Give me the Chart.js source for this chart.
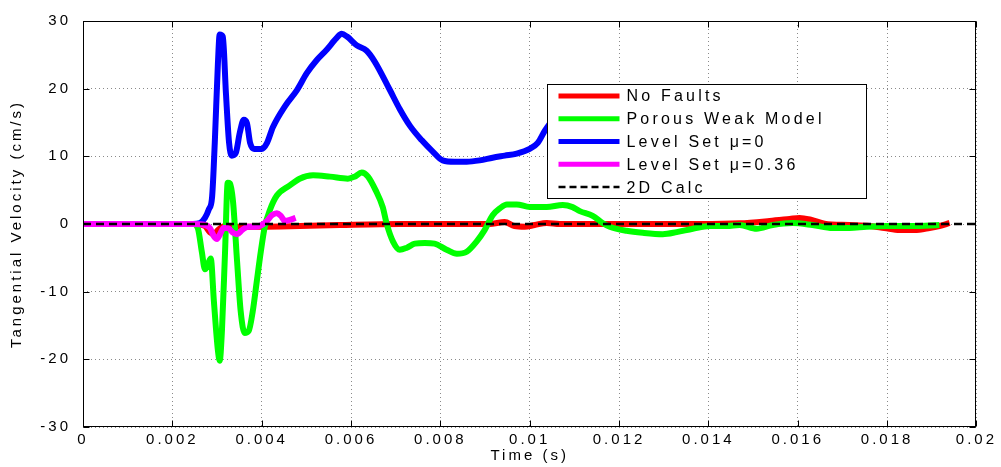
<!DOCTYPE html>
<html>
<head>
<meta charset="utf-8">
<script src="https://cdn.jsdelivr.net/npm/chart.js@4.4.1/dist/chart.umd.min.js"></script>
<style>
  body { margin: 0; background: #fff; }
  #velocityChart { display: block; }
</style>
</head>
<body>
<canvas id="velocityChart" width="1001" height="467"></canvas>
<script>
const xTickLabels = ['0', '0.002', '0.004', '0.006', '0.008', '0.01', '0.012', '0.014', '0.016', '0.018', '0.02'];
const yTickLabels = ['-30', '-20', '-10', '0', '10', '20', '30'];
const seriesNames = ['No Faults', 'Porous Weak Model', 'Level Set \u03bc=0', 'Level Set \u03bc=0.36', '2D Calc'];
const seriesColors = ['#ff0000', '#00ff00', '#0000ff', '#ff00ff', '#000000'];

// time (s) / tangential velocity (cm/s) per run
const noFaultsTime = [0, 0.0025, 0.00273, 0.00284, 0.00293, 0.00302, 0.00318, 0.00351, 0.00396, 0.00485,
  0.00575, 0.00709, 0.00843, 0.0091, 0.00944, 0.00966, 0.00989, 0.01011, 0.01038, 0.01067,
  0.01157, 0.01268, 0.0138, 0.0147, 0.01537, 0.01582, 0.01604, 0.01631, 0.0166, 0.01716,
  0.01761, 0.01794, 0.01828, 0.01861, 0.01895, 0.01917, 0.0194];
const noFaultsVel = [0, 0, -0.3, -1.2, -1.5, -0.9, -0.3, -0.4, -0.4, -0.3,
  -0.15, 0, 0, 0, 0.3, -0.3, -0.4, -0.15, 0.15, 0,
  0, 0, 0, 0.1, 0.45, 0.75, 0.9, 0.6, 0.05, -0.15,
  -0.3, -0.6, -0.9, -0.9, -0.6, -0.3, 0.15];

const porousTime = [0, 0.00246, 0.00257, 0.00266, 0.00273, 0.0028, 0.00286, 0.00293, 0.00302, 0.00306,
  0.00311, 0.00318, 0.00324, 0.00329, 0.00336, 0.00345, 0.00353, 0.00362, 0.00371, 0.0038,
  0.00389, 0.00398, 0.00407, 0.00418, 0.00434, 0.00463, 0.00485, 0.00515, 0.00553, 0.00593,
  0.00608, 0.00624, 0.00638, 0.00655, 0.00671, 0.0068, 0.00694, 0.00709, 0.00725, 0.00743,
  0.00765, 0.00787, 0.00814, 0.00837, 0.00859, 0.00881, 0.00899, 0.00917, 0.00933, 0.00949,
  0.00971, 0.01, 0.01038, 0.01074, 0.01096, 0.01112, 0.01141, 0.01163, 0.01179, 0.01217,
  0.01253, 0.01298, 0.01329, 0.01365, 0.01403, 0.01441, 0.0147, 0.01508, 0.01544, 0.01588,
  0.01633, 0.01678, 0.01716, 0.01754, 0.01799, 0.01857, 0.01917];
const porousVel = [0, 0, -0.6, -4.1, -6.7, -5.9, -5.1, -11.4, -18.7, -20.2,
  -15.8, -4.1, 6.1, 6.0, 3.2, -5.6, -12.9, -16.1, -15.8, -12.9,
  -8.5, -4.1, -0.4, 2.0, 4.2, 5.7, 6.7, 7.2, 7.0, 6.7,
  7.0, 7.6, 7.0, 5.0, 2.5, 0, -2.6, -3.8, -3.5, -2.9,
  -2.8, -2.9, -3.8, -4.4, -4.1, -2.6, -0.9, 1.3, 2.3, 2.9,
  2.9, 2.5, 2.5, 2.8, 2.5, 1.9, 1.2, 0.15, -0.4, -1.0,
  -1.3, -1.5, -1.2, -0.7, -0.3, -0.3, -0.15, -0.7, -0.15, 0.15,
  -0.15, -0.6, -0.6, -0.4, -0.3, -0.3, -0.15];

const levelSet0Time = [0, 0.00246, 0.00262, 0.00273, 0.00282, 0.00289, 0.00295, 0.00302, 0.00306, 0.00313,
  0.0032, 0.00327, 0.00333, 0.00342, 0.00351, 0.0036, 0.00367, 0.00374, 0.00383, 0.004,
  0.00412, 0.00425, 0.00452, 0.00479, 0.00501, 0.00523, 0.00546, 0.00568, 0.00579, 0.00591,
  0.00613, 0.00635, 0.00653, 0.00687, 0.00709, 0.00732, 0.00758, 0.00783, 0.00805, 0.00832,
  0.00859, 0.00888, 0.00917, 0.00944, 0.00971, 0.01, 0.01018, 0.01034, 0.01049];
const levelSet0Vel = [0, 0, 0.15, 0.9, 2.2, 4.0, 12.0, 23.7, 28.0, 27.7,
  19.3, 12.0, 10.1, 10.5, 13.5, 15.4, 14.9, 12.0, 11.1, 11.1,
  12.0, 14.3, 17.4, 19.8, 22.3, 24.2, 25.8, 27.5, 28.1, 27.7,
  26.4, 25.6, 24.0, 19.8, 17.0, 14.5, 12.4, 10.7, 9.4, 9.2,
  9.2, 9.4, 9.8, 10.1, 10.4, 11.1, 12.0, 13.8, 15.2];

const levelSet036Time = [0, 0.00246, 0.00273, 0.00284, 0.00293, 0.003, 0.00306, 0.00315, 0.00324, 0.00336,
  0.00345, 0.00356, 0.00369, 0.00387, 0.004, 0.00412, 0.00423, 0.00434, 0.00443, 0.00452,
  0.00463, 0.00476];
const levelSet036Vel = [0, 0, -0.15, -0.6, -1.8, -2.2, -1.6, -0.6, -0.6, -1.3,
  -1.5, -0.9, -0.4, -0.4, -0.15, 0.45, 1.3, 1.6, 1.2, 0.45,
  0.6, 0.9];

const calc2dTime = [0, 0.02];
const calc2dVel = [0, 0];

const fontFamily = "'Liberation Sans', Arial, Helvetica, sans-serif";
const spacing = '3px';

function toPoints(ts, vs) {
  return ts.map((t, i) => ({ x: t, y: vs[i] }));
}

function lineSet(idx, ts, vs, extra) {
  return Object.assign({
    label: seriesNames[idx],
    data: toPoints(ts, vs),
    borderColor: seriesColors[idx],
    borderWidth: 6,
    pointRadius: 0,
    cubicInterpolationMode: 'monotone',
    borderJoinStyle: 'round',
    order: 5 - idx
  }, extra || {});
}

// legend box, as fractions of the plot area
const legendBox = { left: 0.519, right: 0.876, top: 0.154, bottom: 0.434 };

function drawLegend(chart) {
  const { ctx, chartArea: a } = chart;
  const bx = Math.round(a.left + legendBox.left * a.width) + 0.5;
  const by = Math.round(a.top + legendBox.top * a.height) + 0.5;
  const bw = Math.round((legendBox.right - legendBox.left) * a.width);
  const bh = Math.round((legendBox.bottom - legendBox.top) * a.height);
  ctx.save();
  ctx.fillStyle = '#fff';
  ctx.fillRect(bx, by, bw, bh);
  ctx.strokeStyle = '#000';
  ctx.lineWidth = 1;
  ctx.strokeRect(bx, by, bw, bh);
  ctx.font = '16px ' + fontFamily;
  ctx.letterSpacing = '3.2px';
  ctx.textBaseline = 'middle';
  ctx.fillStyle = '#000';
  const rowH = bh / seriesNames.length;
  seriesNames.forEach((name, i) => {
    const ry = by + rowH * (i + 0.5);
    ctx.beginPath();
    ctx.moveTo(bx + 11, ry);
    ctx.lineTo(bx + 72, ry);
    if (i === 4) {
      ctx.setLineDash([7, 4]);
      ctx.lineWidth = 2.5;
    } else {
      ctx.setLineDash([]);
      ctx.lineWidth = 5;
    }
    ctx.strokeStyle = seriesColors[i];
    ctx.stroke();
    ctx.fillText(name, bx + 79, ry + 1);
  });
  ctx.restore();
}

const boxPlugin = {
  id: 'plotBox',
  beforeLayout(chart) { chart.ctx.letterSpacing = spacing; },
  beforeDraw(chart) {
    const { ctx } = chart;
    ctx.save();
    ctx.fillStyle = '#fff';
    ctx.fillRect(0, 0, chart.width, chart.height);
    ctx.restore();
    ctx.letterSpacing = spacing;
  },
  afterDatasetsDraw(chart) { drawLegend(chart); },
  afterDraw(chart) {
    const { ctx, chartArea: a, scales: { x, y } } = chart;
    const L = Math.round(a.left) + 0.5, R = Math.round(a.right) - 0.5;
    const T = Math.round(a.top) + 0.5, B = Math.round(a.bottom) - 0.5;
    const tick = 6;
    ctx.save();
    ctx.strokeStyle = '#000';
    ctx.lineWidth = 1;
    ctx.setLineDash([]);
    ctx.strokeRect(L, T, R - L, B - T);
    ctx.beginPath();
    x.ticks.forEach(t => {
      const px = Math.round(x.getPixelForValue(t.value)) + 0.5;
      ctx.moveTo(px, B); ctx.lineTo(px, B - tick);
      ctx.moveTo(px, T); ctx.lineTo(px, T + tick);
    });
    y.ticks.forEach(t => {
      const py = Math.round(y.getPixelForValue(t.value)) + 0.5;
      ctx.moveTo(L, py); ctx.lineTo(L + tick, py);
      ctx.moveTo(R, py); ctx.lineTo(R - tick, py);
    });
    ctx.stroke();
    ctx.restore();
  }
};

Chart.defaults.font.family = fontFamily;
Chart.defaults.color = '#000';

new Chart(document.getElementById('velocityChart').getContext('2d'), {
  type: 'line',
  data: {
    datasets: [
      lineSet(0, noFaultsTime, noFaultsVel),
      lineSet(1, porousTime, porousVel),
      lineSet(2, levelSet0Time, levelSet0Vel),
      lineSet(3, levelSet036Time, levelSet036Vel),
      lineSet(4, calc2dTime, calc2dVel, { borderWidth: 2.5, borderDash: [8, 5], cubicInterpolationMode: 'default' })
    ]
  },
  options: {
    responsive: false,
    animation: false,
    devicePixelRatio: 1,
    layout: { padding: { top: 17, right: 24, bottom: 0, left: 0 } },
    plugins: {
      legend: { display: false },
      tooltip: { enabled: false }
    },
    scales: {
      x: {
        type: 'linear',
        min: 0,
        max: 0.02,
        afterFit: s => { s.height = 40; },
        ticks: {
          stepSize: 0.002,
          autoSkip: false,
          maxRotation: 0,
          padding: 4,
          font: { size: 15 },
          callback: (v, i) => xTickLabels[i]
        },
        grid: { color: '#8a8a8a', lineWidth: 1, drawTicks: false },
        border: { display: false, dash: [1, 3] },
        title: {
          display: true,
          text: 'Time (s)',
          font: { size: 15 },
          padding: { top: 0, bottom: 2 }
        }
      },
      y: {
        min: -30,
        max: 30,
        afterFit: s => { s.width = 83; },
        ticks: {
          stepSize: 10,
          padding: 12,
          font: { size: 15 },
          callback: (v, i) => yTickLabels[i]
        },
        grid: { color: '#8a8a8a', lineWidth: 1, drawTicks: false },
        border: { display: false, dash: [1, 3] },
        title: {
          display: true,
          text: 'Tangential Velocity (cm/s)',
          font: { size: 15 },
          padding: { top: 8, bottom: 0 }
        }
      }
    }
  },
  plugins: [boxPlugin]
});
</script>
</body>
</html>
